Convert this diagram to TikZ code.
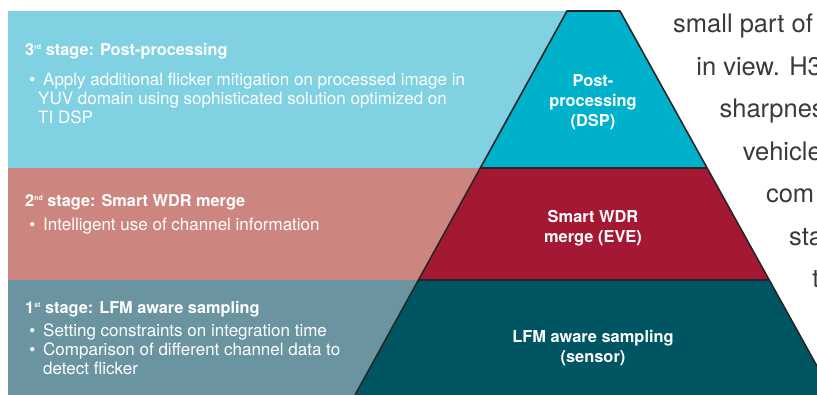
\documentclass[tikz,border=0pt]{standalone}
\usepackage{fontspec}
\setmainfont{TeX Gyre Heros}
\usepackage{tikz}

\definecolor{bandthree}{HTML}{80D1E1}
\definecolor{bandtwo}{HTML}{CD867F}
\definecolor{bandone}{HTML}{6A95A0}
\definecolor{dspcol}{HTML}{00B1CC}
\definecolor{evecol}{HTML}{A51834}
\definecolor{sensorcol}{HTML}{005563}
\definecolor{sidegray}{HTML}{3A3A3A}

\newcommand{\ordsup}[1]{\raisebox{6pt}{\fontsize{7}{7}\selectfont #1}}

\begin{document}
\begin{tikzpicture}[x=1pt, y=-1pt,
        heading/.style={anchor=base west, text=white, inner sep=0pt,
            font=\fontsize{16.3}{19.5}\selectfont\bfseries},
        item/.style={anchor=base west, text=white, inner sep=0pt, align=left,
            font=\fontsize{17}{19.3}\selectfont},
        level/.style={text=white, inner sep=0pt, align=center,
            font=\fontsize{16.4}{20}\selectfont\bfseries},
        side/.style={anchor=base west, text=sidegray, inner sep=0pt,
            font=\fontsize{25.5}{30}\selectfont},
        edge/.style={draw=black!85, line width=1.6pt, line join=round}]
    \useasboundingbox (0,0) rectangle (817,395);
    \clip (0,0) rectangle (817,395);
    \fill[white] (0,0) rectangle (817,395);
    % bands behind the pyramid
    \fill[bandthree] (8,11) rectangle (600,168);
    \fill[bandtwo] (8,168) rectangle (600,280);
    \fill[bandone] (8,280) rectangle (600,395);
    % pyramid
    \fill[dspcol] (567,11) -- (620,11) -- (707,168) -- (480,168) -- cycle;
    \fill[evecol] (480,168) -- (707,168) -- (769,280) -- (418,280) -- cycle;
    \fill[sensorcol] (418,280) -- (769,280) -- (833,395) -- (355,395) -- cycle;
    \draw[edge] (355,395) -- (567,11) -- (620,11) -- (833,395);
    \draw[edge] (480,168) -- (707,168) (418,280) -- (769,280);

    \node[level] (dsp) at (593,102) {Post-\\processing\\(DSP)};
    \node[level] (eve) at (593,228) {Smart WDR\\merge (EVE)};
    \node[level] (sensor) at (593,348) {LFM aware sampling\\(sensor)};

    % texts of the three stages (a multi-line node sits on its last line)
    \node[heading] (head3) at (25,56) {3\ordsup{rd} stage: Post-processing};
    \node[item] (item3) at (43,124) {\llap{\textbullet\hspace{8pt}}Apply additional flicker mitigation on processed image in\\\hspace{-5pt}YUV domain using sophisticated solution optimized on\\\hspace{-5pt}TI DSP};
    \node[heading] (head2) at (25,207) {2\ordsup{nd} stage: Smart WDR merge};
    \node[item] (item2) at (43,231) {\llap{\textbullet\hspace{8pt}}Intelligent use of channel information};
    \node[heading] (head1) at (25,314) {1\ordsup{st} stage: LFM aware sampling};
    \node[item] (item1a) at (43,337) {\llap{\textbullet\hspace{8pt}}Setting constraints on integration time};
    \node[item] (item1b) at (43,375) {\llap{\textbullet\hspace{8pt}}Comparison of different channel data to\\detect flicker};

    \foreach \t [count=\i from 0] in {small part of, in view. H3, sharpnes, vehicle, com, sta, t}
        \node[side] (side\i) at (673+23.2*\i, 33+42.5*\i) {\t};
\end{tikzpicture}
\end{document}
